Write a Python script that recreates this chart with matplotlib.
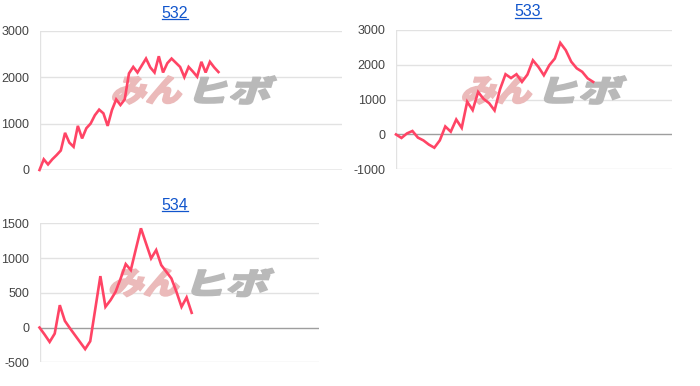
import matplotlib
matplotlib.use('Agg')
import matplotlib.pyplot as plt
import matplotlib.transforms as mtransforms
from matplotlib.textpath import TextPath
from matplotlib.patches import PathPatch
from matplotlib.font_manager import FontProperties
from matplotlib.lines import Line2D

plt.rcParams['font.family'] = ['Liberation Sans', 'DejaVu Sans']

W, H = 700, 386

titles = ['532', '533', '534']

values_532 = [0, 230, 120, 230, 320, 420, 800, 590, 500, 950, 680, 900, 1000,
              1180, 1300, 1220, 950, 1290, 1520, 1400, 1520, 2080, 2220, 2100,
              2250, 2400, 2210, 2100, 2450, 2100, 2300, 2400, 2310, 2220, 2000,
              2220, 2120, 2010, 2330, 2100, 2330, 2210, 2110]

values_533 = [0, -100, 30, 100, -90, -170, -290, -380, -170, 230, 80, 430, 190,
              940, 700, 1220, 1020, 900, 690, 1300, 1730, 1620, 1730, 1510, 1720,
              2130, 1940, 1700, 1990, 2180, 2630, 2420, 2090, 1900, 1800, 1610,
              1510]

values_534 = [0, -100, -207, -87, 322, 96, -10, -110, -210, -310, -197, 270,
              740, 298, 394, 514, 707, 913, 827, 1130, 1428, 1211, 995, 1115,
              899, 803, 707, 514, 298, 433, 212]

yticks_532 = [0, 1000, 2000, 3000]
yticks_533 = [-1000, 0, 1000, 2000, 3000]
yticks_534 = [-500, 0, 500, 1000, 1500]

series = [values_532, values_533, values_534]
yticks = [yticks_532, yticks_533, yticks_534]

# layout (pixels: left, top, right, bottom)
boxes = [(39.5, 30.7, 342, 170), (396, 30, 672, 169.3), (39.5, 223.3, 319, 362.3)]
xmax = [71, 50.4, 55.1]
title_pos = [(175, 13), (528, 12), (175, 205)]
logo_centers = [(195, 90), (545, 90), (192.5, 282.5)]

LINE = '#ff4465'
GRID = '#e2e2e2'
BASE = '#9e9e9e'
TXT = '#444444'
LINK = '#1155cc'

fig = plt.figure(figsize=(W / 100, H / 100), dpi=100)
pix2fig = mtransforms.Affine2D().scale(1 / W, 1 / H) + fig.transFigure

fp_logo = FontProperties(family='Noto Sans CJK JP', weight='black')


def logo_patch(text, rect, color):
    x0, y0, x1, y1 = rect  # pixel coords, y up
    p = TextPath((0, 0), text, prop=fp_logo, size=1)
    ext = p.get_extents()
    cx, cy = (x0 + x1) / 2, (y0 + y1) / 2
    tr = (mtransforms.Affine2D()
          .translate(-ext.x0, -ext.y0)
          .scale((x1 - x0) / ext.width, (y1 - y0) / ext.height)
          .translate(x0, y0)
          .translate(-cx, -cy).skew_deg(18, 0).translate(cx, cy))
    return PathPatch(tr.transform_path(p), transform=pix2fig, facecolor=color,
                     edgecolor=color, lw=1.2, zorder=1.5, clip_on=False)


for i, (vals, yt) in enumerate(zip(series, yticks)):
    l, t, r, b = boxes[i]
    ax = fig.add_axes([l / W, 1 - b / H, (r - l) / W, (b - t) / H])
    for s in ax.spines.values():
        s.set_visible(False)
    ax.set_yticks(yt)
    ax.set_yticklabels([str(v) for v in yt])
    ax.set_xticks([])
    ax.tick_params(axis='y', length=0, pad=7.5, labelsize=9, labelcolor=TXT)
    for v in yt:
        if v == 0:
            continue
        ax.axhline(v, color=GRID, lw=1, zorder=0.5)
    ax.axvline(0, color=GRID, lw=1, zorder=0.6)
    ax.axhline(0, color=BASE, lw=1, zorder=0.7)

    cx, cy = logo_centers[i]
    cy = H - cy
    ax.add_patch(logo_patch('みん', (cx - 80, cy - 14, cx - 12, cy + 14), '#ebbaba'))
    ax.add_patch(logo_patch('ヒボ', (cx + 2, cy - 14, cx + 78, cy + 14), '#b9b9b9'))

    ax.plot(range(len(vals)), vals, color=LINE, lw=1.9, solid_joinstyle='miter',
            zorder=3, clip_on=False)
    ax.set_xlim(0, xmax[i])
    ax.set_ylim(yt[0], yt[-1])

texts = []
for i, name in enumerate(titles):
    x, y = title_pos[i]
    texts.append(fig.text(x / W, 1 - y / H, name, ha='center', va='center',
                          fontsize=11.5, color=LINK))

fig.canvas.draw()
renderer = fig.canvas.get_renderer()
inv = fig.transFigure.inverted()
for t in texts:
    bb = t.get_window_extent(renderer)
    (fx0, fy), (fx1, _) = inv.transform([(bb.x0, bb.y0 + 1.2), (bb.x1, bb.y0 + 1.2)])
    fig.add_artist(Line2D([fx0, fx1], [fy, fy], color=LINK, lw=0.9,
                          transform=fig.transFigure))

fig.savefig('out.png', dpi=100)
